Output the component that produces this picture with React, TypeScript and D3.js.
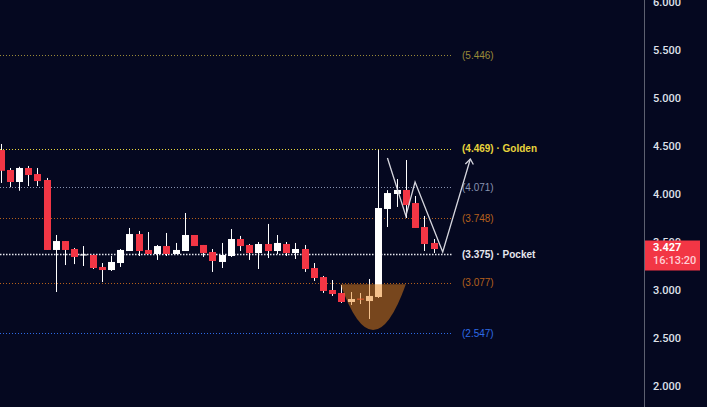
import React from "react";
import * as d3 from "d3";

const W = 707;
const H = 407;

// OHLC candles (index order)
const opens = [4.458, 4.25, 4.125, 4.271, 4.208, 4.146, 3.417, 3.51, 3.427, 3.365, 3.365, 3.24, 3.208, 3.281, 3.406, 3.583, 3.417, 3.375, 3.458, 3.375, 3.406, 3.573, 3.469, 3.396, 3.292, 3.354, 3.531, 3.469, 3.385, 3.479, 3.406, 3.479, 3.385, 3.427, 3.229, 3.135, 3.0, 2.969, 2.875, 2.91, 2.885, 2.927, 3.844, 4.0, 4.042, 3.906, 3.656, 3.49];
const highs = [4.521, 4.271, 4.284, 4.292, 4.271, 4.167, 3.573, 3.51, 3.438, 3.458, 3.365, 3.281, 3.354, 3.427, 3.646, 3.615, 3.604, 3.469, 3.594, 3.49, 3.802, 3.573, 3.469, 3.427, 3.49, 3.635, 3.563, 3.479, 3.5, 3.688, 3.573, 3.5, 3.49, 3.469, 3.281, 3.146, 3.104, 3.052, 2.979, 2.969, 3.115, 4.458, 4.04, 4.156, 4.354, 3.979, 3.771, 3.531];
const lows = [4.115, 4.07, 4.034, 4.083, 4.083, 3.417, 2.979, 3.26, 3.27, 3.25, 3.219, 3.083, 3.198, 3.24, 3.406, 3.354, 3.375, 3.313, 3.354, 3.375, 3.406, 3.458, 3.344, 3.188, 3.229, 3.344, 3.406, 3.313, 3.219, 3.333, 3.375, 3.354, 3.323, 3.188, 3.094, 2.969, 2.938, 2.865, 2.844, 2.854, 2.698, 2.917, 3.656, 3.865, 3.75, 3.646, 3.406, 3.385];
const closes = [4.242, 4.125, 4.271, 4.198, 4.135, 3.417, 3.51, 3.417, 3.344, 3.37, 3.229, 3.208, 3.292, 3.417, 3.583, 3.406, 3.375, 3.458, 3.375, 3.417, 3.573, 3.458, 3.385, 3.302, 3.365, 3.531, 3.458, 3.385, 3.479, 3.406, 3.49, 3.385, 3.427, 3.219, 3.125, 2.99, 2.958, 2.875, 2.906, 2.9, 2.938, 3.854, 4.01, 4.042, 3.885, 3.646, 3.479, 3.427];

// horizontal levels
const levelValues = [5.446, 4.469, 4.071, 3.748, 3.375, 3.077, 2.547];
const levelLabels = ["(5.446)", "(4.469) · Golden", "(4.071)", "(3.748)", "(3.375) · Pocket", "(3.077)", "(2.547)"];
const levelColors = ["#9a8a38", "#e8d43c", "#8893b0", "#b5601c", "#e6e6ee", "#b5601c", "#2e6be6"];

// axis ticks
const tickValues = [6.0, 5.5, 5.0, 4.5, 4.0, 3.5, 3.0, 2.5, 2.0];

// zigzag projection (candle index, price)
const zigIdx = [42, 44, 45, 48, 51];
const zigPrice = [4.375, 3.771, 4.125, 3.396, 4.365];

// cup shape (left idx, right idx, rim price, bottom price)
const cupIdx = [36.9, 44.0];
const cupPrice = [3.06, 2.583];

const lastPrice = 3.427;
const lastTime = "16:13:20";

const BG = "#050820";
const RED = "#f23645";

export default function App() {
  const x = d3.scaleLinear().domain([0, 47]).range([0.5, 433.5]);
  const y = d3.scaleLinear().domain([3, 4]).range([290, 194]);
  const bodyW = 7;
  const lineEnd = x(49);

  const zigLine = d3
    .line<number>()
    .x((_, i) => x(zigIdx[i]))
    .y((_, i) => y(zigPrice[i]));
  const zigPath = zigLine(zigIdx as any) || "";

  const tipX = x(zigIdx[zigIdx.length - 1]);
  const tipY = y(zigPrice[zigPrice.length - 1]);

  const cl = x(cupIdx[0]);
  const cr = x(cupIdx[1]);
  const rim = y(cupPrice[0]);
  const bot = y(cupPrice[1]);
  const ctrlY = 2 * bot - rim;
  const cupPath = `M${cl},${rim} Q${(cl + cr) / 2},${ctrlY} ${cr},${rim} Z`;

  const axisX = 644;
  const tagY = y(lastPrice);

  return (
    <svg
      width={W}
      height={H}
      style={{ position: "fixed", left: 0, top: 0, background: BG, display: "block" }}
    >
      <rect x={0} y={0} width={W} height={H} fill={BG} />
      {/* levels */}
      {levelValues.map((v, i) => (
        <g key={"lv" + i}>
          <line
            x1={0}
            x2={lineEnd}
            y1={Math.round(y(v)) + 0.5}
            y2={Math.round(y(v)) + 0.5}
            stroke={levelColors[i]}
            strokeWidth={i === 4 ? 1.5 : 1}
            strokeDasharray={i === 4 ? "1.5,1.5" : "1,2"}
          />
          <text
            x={462}
            y={y(v) + 3.5}
            fill={levelColors[i]}
            fontSize={10}
            fontFamily="Liberation Sans, Arial, sans-serif"
            fontWeight={i === 1 || i === 4 ? 600 : 400}
          >
            {levelLabels[i]}
          </text>
        </g>
      ))}
      {/* candles */}
      {opens.map((o, i) => {
        const c = closes[i];
        const up = c >= o;
        const cx = Math.round(x(i));
        const top = y(Math.max(o, c));
        const bottom = y(Math.min(o, c));
        return (
          <g key={"c" + i}>
            <line
              x1={cx + 0.5}
              x2={cx + 0.5}
              y1={y(highs[i])}
              y2={y(lows[i])}
              stroke="#ffffff"
              strokeWidth={1}
            />
            <rect
              x={cx - 3}
              y={top}
              width={bodyW}
              height={Math.max(1, bottom - top)}
              fill={up ? "#ffffff" : RED}
            />
          </g>
        );
      })}
      {/* cup overlay */}
      <path d={cupPath} fill="rgb(234,132,25)" fillOpacity={0.5} />
      {/* zigzag */}
      <path d={zigPath} fill="none" stroke="#d6d6de" strokeWidth={1.3} />
      <path
        d={`M${tipX - 5},${tipY + 5} L${tipX},${tipY} L${tipX + 3},${tipY + 5.5}`}
        fill="none"
        stroke="#d6d6de"
        strokeWidth={1.3}
      />
      {/* axis */}
      <line x1={axisX + 0.5} x2={axisX + 0.5} y1={0} y2={H} stroke="#5d6070" strokeWidth={1} />
      {tickValues.map((t, i) => (
        <text
          key={"t" + i}
          x={653}
          y={y(t) + 4}
          fill="#dfe1ea"
          fontSize={11}
          fontFamily="Roboto, Arial, sans-serif"
          fontWeight={500}
        >
          {d3.format(".3f")(t)}
        </text>
      ))}
      {/* price tag */}
      <rect x={645} y={tagY - 8.5} width={55} height={30} fill={RED} />
      <text x={653} y={tagY + 1.5} fill="#ffffff" fontSize={11} fontFamily="Roboto, Arial, sans-serif" fontWeight={700}>
        {d3.format(".3f")(lastPrice)}
      </text>
      <text x={653} y={tagY + 15} fill="#ffd0d5" fontSize={11} fontFamily="Roboto, Arial, sans-serif" fontWeight={500}>
        {lastTime}
      </text>
    </svg>
  );
}
